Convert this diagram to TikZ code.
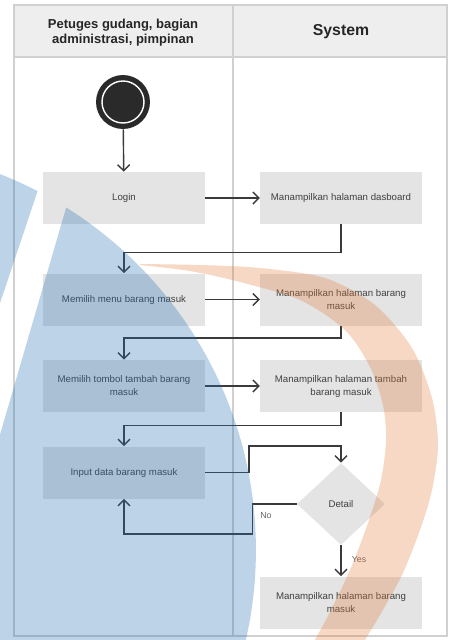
\documentclass[tikz,border=0pt]{standalone}
\usepackage{fontspec}
\setmainfont{Liberation Sans}
\usepackage{tikz}
\usetikzlibrary{positioning}
\usetikzlibrary{shapes.geometric}
\usetikzlibrary{arrows.meta}
\usepackage{xcolor}
\definecolor{lanegray}{HTML}{D0D0D0}
\definecolor{headgray}{HTML}{EEEEEE}
\definecolor{boxgray}{HTML}{E4E4E4}
\definecolor{linegray}{HTML}{3A3A3A}
\definecolor{startdark}{HTML}{2A2A2A}
\definecolor{wmblue}{RGB}{38,112,178}
\definecolor{wmorange}{RGB}{225,125,58}

\begin{document}
\begin{tikzpicture}[x=0.02cm, y=-0.02cm,
    actbox/.style={fill=boxgray, minimum width=3.23cm, minimum height=1.04cm, text width=2.95cm, align=flush center, inner sep=0pt, font=\fontsize{5.5}{7.4}\selectfont, text=black!75},
    flow/.style={draw=linegray, line width=0.8pt, -{Straight Barb[length=1.2mm, width=2.4mm]}},
    lbl/.style={font=\fontsize{5}{6}\selectfont, text=black!60, inner sep=1pt}]
    \useasboundingbox (0,0) rectangle (450,640);

    % Swimlanes
    \fill[headgray] (14,5) rectangle (447,57);
    \draw[lanegray, line width=0.6pt] (14,5) rectangle (447,636);
    \draw[lanegray, line width=0.6pt] (233,5) -- (233,636);
    \draw[lanegray, line width=0.6pt] (14,57) -- (447,57);
    \node[font=\fontsize{7.4}{8.5}\selectfont\bfseries, align=center, text=black!85] (actor) at (123,33) {Petuges gudang, bagian\\administrasi, pimpinan};
    \node[font=\fontsize{9}{11}\selectfont\bfseries, text=black!85] (sys) at (341,32) {System};

    % Start
    \node[circle, fill=startdark, minimum size=1.08cm, inner sep=0pt] (start) at (123,102) {};
    \node[circle, draw=white, line width=0.8pt, fill=startdark, minimum size=0.84cm, inner sep=0pt] (startin) at (start) {};

    % Activities
    \node[actbox] (login) at (124,198) {Login};
    \node[actbox] (dash) at (341,198) {Manampilkan halaman dasboard};
    \node[actbox] (menu) at (124,299.5) {Memilih menu barang masuk};
    \node[actbox] (halbar) at (341,299.5) {Manampilkan halaman barang masuk};
    \node[actbox] (tombol) at (124,386) {Memilih tombol tambah barang masuk};
    \node[actbox] (haltambah) at (341,386) {Manampilkan halaman tambah barang masuk};
    \node[actbox] (input) at (124,472.5) {Input data barang masuk};
    \node[diamond, fill=boxgray, minimum width=1.76cm, minimum height=1.64cm, inner sep=0pt, font=\fontsize{5.5}{7}\selectfont, text=black!75] (detail) at (341,504) {Detail};
    \node[actbox] (hasil) at (341,602.5) {Manampilkan halaman barang masuk};

    % Flow
    \draw[flow] (start) -- (login);
    \draw[flow] (login) -- (dash);
    \draw[flow] (dash.south) -- ++(0,28) -| (menu.north);
    \draw[flow] (menu) -- (halbar);
    \draw[flow] (halbar.south) -- ++(0,12) -| (tombol.north);
    \draw[flow] (tombol) -- (haltambah);
    \draw[flow] (haltambah.south) -- ++(0,13) -| (input.north);
    \draw[flow] (input.east) -- ++(44,0) -- ++(0,-26.5) -| (detail.north);
    \draw[flow] (detail.west) -- ++(-44,0) -- ++(0,30) -| (input.south);
    \draw[flow] (detail.south) -- (hasil.north);
    \node[lbl] (nolbl) at (266,516) {No};
    \node[lbl] (yeslbl) at (359,560) {Yes};

    % Watermark
    \begin{scope}
        \clip (0,0) rectangle (450,640);
        \begin{scope}
            \clip (-148,550) circle[radius=8.08cm];
            \fill[wmblue, opacity=0.3, even odd rule] (-20,100) rectangle (470,700)
                (48,160) -- (80,160) -- (-10,469) -- (-10,333) -- cycle;
        \end{scope}
        \fill[wmorange, opacity=0.3]
            plot[smooth] coordinates {(140,264) (200,265) (260,268) (325,278) (375,305) (412,348) (432,398) (438,445) (432,490) (420,530) (402,575) (380,615) (365,640) (355,660)}
            -- plot[smooth] coordinates {(305,660) (315,640) (330,612) (350,570) (368,523) (381,480) (386,440) (383,405) (370,367) (345,330) (300,300) (240,282) (190,271) (140,265)}
            -- cycle;
    \end{scope}
\end{tikzpicture}
\end{document}
